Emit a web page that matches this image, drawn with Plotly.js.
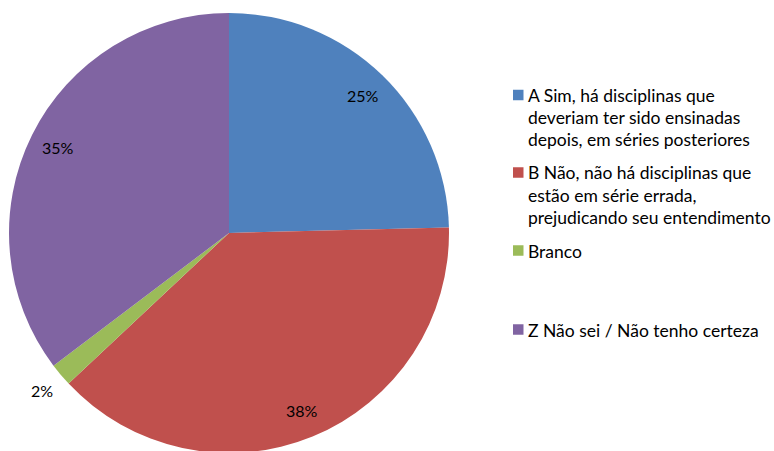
<!DOCTYPE html>
<html><head><meta charset="utf-8">
<script src="https://cdn.plot.ly/plotly-3.0.1.min.js"></script>
<style>html,body{margin:0;padding:0;background:#fff;overflow:hidden}#chart{width:774px;height:453px}</style>
</head><body><div id="chart"></div>
<script>
const categories = [
  "A Sim, há disciplinas que<br>deveriam ter sido ensinadas<br>depois, em séries posteriores",
  "B Não, não há disciplinas que<br>estão em série errada,<br>prejudicando seu entendimento",
  "Branco",
  "Z Não sei / Não tenho certeza"
];
const values = [24.6, 38.4, 1.7, 35.3];
const colors = ["#4F81BD", "#C0504D", "#9BBB59", "#8064A2"];
const legendCenters = [95, 172.5, 250.5, 329.5]; // px from top, first line
const labelRadius = [0.87, 0.87, 1.11, 0.87];

const W = 774, H = 453;
const domX = [9 / W, 449 / W];
const domY = [0, 440 / H];
const FONT = "Lato, 'Open Sans', sans-serif";

const total = values.reduce((a, b) => a + b, 0);
const cx = (domX[0] + domX[1]) / 2 * W;
const cyFromTop = H - (domY[0] + domY[1]) / 2 * H;
const R = Math.min((domX[1] - domX[0]) * W, (domY[1] - domY[0]) * H) / 2;

const annotations = [];
const shapes = [];
let cum = 0;
values.forEach((v, i) => {
  const mid = (cum + v / 2) / total * 2 * Math.PI;
  cum += v;
  const px = cx + Math.sin(mid) * R * labelRadius[i];
  const py = cyFromTop - Math.cos(mid) * R * labelRadius[i];
  annotations.push({
    x: px / W, y: 1 - py / H, xref: "paper", yref: "paper",
    text: Math.round(v / total * 100) + "%", showarrow: false,
    xanchor: "center", yanchor: "middle",
    font: {family: FONT, size: 16, color: "#000"}
  });
});

const lineGap = 22;
categories.forEach((c, i) => {
  const lines = c.split("<br>");
  lines.forEach((ln, j) => {
    const yc = legendCenters[i] + j * lineGap;
    annotations.push({
      x: 526 / W, y: 1 - (yc + 0.5) / H, xref: "paper", yref: "paper",
      text: ln, showarrow: false, xanchor: "left", yanchor: "middle",
      font: {family: FONT, size: 17.5, color: "#000"}
    });
  });
  const yc = legendCenters[i];
  shapes.push({
    type: "rect", xref: "paper", yref: "paper",
    x0: 513 / W, x1: 523.5 / W, y0: 1 - (yc - 5.25) / H, y1: 1 - (yc + 5.25) / H,
    fillcolor: colors[i], line: {width: 0}
  });
});

const data = [{
  type: "pie",
  values: values,
  labels: categories,
  marker: {colors: colors, line: {width: 0}},
  sort: false,
  direction: "clockwise",
  rotation: 0,
  textinfo: "none",
  hoverinfo: "label+percent",
  showlegend: false,
  domain: {x: domX, y: domY}
}];

const layout = {
  width: W, height: H,
  margin: {l: 0, r: 0, t: 0, b: 0},
  paper_bgcolor: "#fff",
  showlegend: false,
  annotations: annotations,
  shapes: shapes
};

Plotly.newPlot("chart", data, layout, {displayModeBar: false, staticPlot: true});
</script></body></html>
